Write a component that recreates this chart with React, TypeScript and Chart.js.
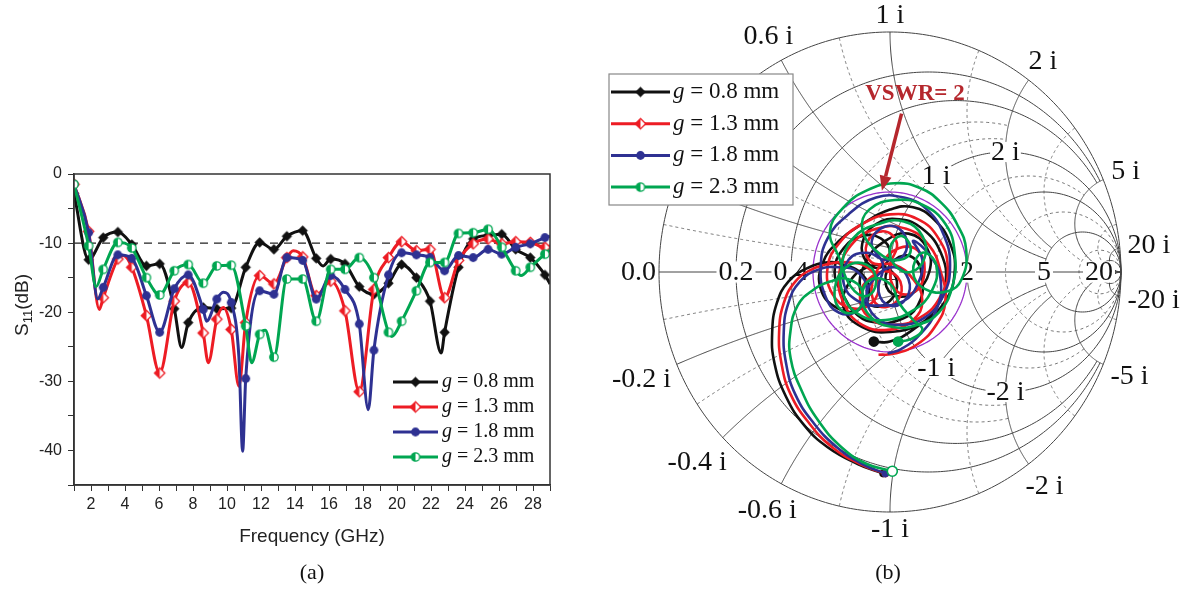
import React, { useEffect, useRef } from 'react';
import { Chart, registerables } from 'chart.js';
Chart.register(...registerables);

const SERIF = '"Liberation Serif", "Times New Roman", serif';
const SANS = '"Liberation Sans", Arial, sans-serif';

// ---------------- Panel (a): S11 vs frequency ----------------
const markerFreqs = [1.0, 1.86, 2.72, 3.58, 4.4, 5.26, 6.04, 6.9, 7.72, 8.6, 9.4, 10.25, 11.1, 11.92, 12.76, 13.52, 14.45, 15.25, 16.1, 16.94, 17.78, 18.64, 19.5, 20.27, 21.14, 21.94, 22.8, 23.62, 24.48, 25.36, 26.16, 26.98, 27.84, 28.7];
const s11G08 = [-2.8, -12.4, -9.2, -8.4, -10.2, -13.3, -13.0, -19.5, -21.5, -19.3, -19.5, -19.4, -13.5, -9.9, -10.9, -9.0, -8.2, -12.2, -12.3, -13.0, -16.3, -17.4, -15.8, -13.1, -15.0, -18.4, -22.9, -13.5, -9.4, -8.9, -8.7, -10.9, -12.1, -14.6];
const s11G13 = [-1.5, -8.3, -17.9, -12.3, -13.5, -20.5, -28.8, -18.4, -15.7, -23.0, -21.0, -22.5, -21.5, -14.7, -15.9, -12.1, -12.0, -17.6, -15.5, -19.8, -31.5, -16.7, -12.1, -9.8, -11.1, -10.9, -17.9, -12.5, -10.1, -9.4, -10.1, -9.8, -9.9, -10.6];
const s11G18 = [-1.5, -8.5, -16.4, -11.7, -12.2, -17.6, -22.9, -16.6, -14.6, -19.6, -18.1, -18.6, -29.6, -16.9, -17.4, -12.1, -12.5, -18.1, -14.7, -16.7, -21.7, -25.5, -14.6, -11.4, -11.7, -12.1, -14.0, -11.8, -12.1, -10.9, -11.6, -10.6, -10.1, -9.2];
const s11G23 = [-1.5, -10.4, -13.8, -9.9, -10.7, -15.0, -17.5, -14.0, -13.1, -15.8, -13.3, -13.2, -22.0, -23.2, -26.5, -15.2, -15.2, -21.3, -13.8, -13.8, -12.1, -15.0, -22.9, -21.3, -16.9, -12.8, -12.8, -8.6, -8.5, -8.0, -10.6, -14.0, -13.5, -11.6];
// extra curve points between markers (peaks / dips)
const extraG08 = [[7.33, -25.1], [15.66, -13.3], [22.6, -25.9], [29, -15.9]];
const extraG13 = [[2.49, -19.6], [3.9, -11.8], [8.9, -27.3], [9.78, -19.3], [10.7, -30.7], [13.9, -11.1], [29, -10.4]];
const extraG18 = [[2.4, -18.1], [8.8, -21.3], [9.78, -17.1], [10.7, -26.5], [10.92, -40.1], [18.31, -34.1], [29, -9.0]];
const extraG23 = [[2.3, -16.3], [11.45, -27.3], [12.25, -22.6], [19.7, -23.5], [27.3, -14.7], [29, -11.0]];
const gapLabels = ['0.8', '1.3', '1.8', '2.3'];
const seriesColors = ['#111111', '#ed1c24', '#2e3192', '#00a651'];
const thresholdDb = -10;
const freqRange = [1, 29];
const dbRange = [-45, 0];

// ---------------- Panel (b): Smith chart ----------------
const smithG08 = [[-0.03, -0.84], [-0.14, -0.80], [-0.27, -0.73], [-0.37, -0.64], [-0.45, -0.52], [-0.50, -0.38], [-0.51, -0.25], [-0.49, -0.13], [-0.44, -0.04], [-0.36, 0.015], [-0.27, 0.04], [-0.20, 0.03], [-0.12, -0.01], [-0.09, -0.09], [-0.14, -0.16], [-0.23, -0.15], [-0.30, -0.07], [-0.29, 0.04], [-0.22, 0.13], [-0.12, 0.20], [0.00, 0.26], [0.10, 0.27], [0.19, 0.22], [0.26, 0.12], [0.28, 0.00], [0.24, -0.12], [0.14, -0.21], [0.00, -0.25], [-0.12, -0.23], [-0.20, -0.15], [-0.18, -0.05], [-0.10, 0.02], [-0.02, 0.02], [0.03, -0.04], [0.00, -0.12], [-0.08, -0.14], [-0.13, -0.07], [-0.10, 0.05], [-0.02, 0.13], [0.08, 0.16], [0.16, 0.10], [0.17, 0.00], [0.11, -0.08], [0.03, -0.10], [-0.02, -0.04], [0.02, 0.05], [0.10, 0.06], [0.14, -0.03], [0.12, -0.14], [0.04, -0.20], [-0.06, -0.21], [-0.14, -0.18], [-0.20, -0.10], [-0.24, 0.00], [-0.20, 0.10], [-0.12, 0.15], [-0.04, 0.14], [0.00, 0.08], [-0.04, 0.02], [-0.10, 0.04], [-0.12, 0.12], [-0.06, 0.20], [0.04, 0.22], [0.14, 0.18], [0.22, 0.08], [0.24, -0.05], [0.19, -0.16], [0.10, -0.24], [0.00, -0.29], [-0.07, -0.29]];
const smithG13 = [[-0.02, -0.84], [-0.13, -0.80], [-0.25, -0.73], [-0.35, -0.63], [-0.43, -0.51], [-0.47, -0.38], [-0.48, -0.25], [-0.46, -0.13], [-0.41, -0.04], [-0.34, 0.01], [-0.26, 0.035], [-0.18, 0.04], [-0.10, 0.02], [-0.05, -0.05], [-0.08, -0.13], [-0.17, -0.15], [-0.25, -0.09], [-0.27, 0.02], [-0.22, 0.12], [-0.12, 0.20], [0.00, 0.24], [0.12, 0.22], [0.21, 0.14], [0.25, 0.02], [0.22, -0.10], [0.13, -0.19], [0.01, -0.22], [-0.09, -0.19], [-0.13, -0.10], [-0.08, -0.02], [0.00, 0.00], [0.05, -0.06], [0.02, -0.13], [-0.05, -0.14], [-0.08, -0.07], [-0.04, 0.03], [0.04, 0.10], [0.12, 0.09], [0.15, 0.01], [0.11, -0.08], [0.03, -0.08], [0.00, 0.02], [0.03, 0.12], [-0.03, 0.17], [-0.10, 0.12], [-0.08, 0.04], [0.02, 0.03], [0.10, -0.03], [0.14, -0.12], [0.10, -0.20], [0.00, -0.24], [-0.12, -0.22], [-0.20, -0.13], [-0.22, -0.01], [-0.17, 0.11], [-0.06, 0.18], [0.07, 0.18], [0.17, 0.11], [0.22, 0.00], [0.24, -0.12], [0.20, -0.22], [0.12, -0.30], [0.02, -0.34], [-0.05, -0.345]];
const smithG18 = [[-0.02, -0.84], [-0.12, -0.80], [-0.23, -0.73], [-0.33, -0.63], [-0.41, -0.51], [-0.45, -0.38], [-0.46, -0.25], [-0.44, -0.13], [-0.39, -0.04], [-0.31, 0.01], [-0.22, 0.02], [-0.14, 0.00], [-0.10, -0.08], [-0.14, -0.16], [-0.22, -0.17], [-0.28, -0.10], [-0.30, 0.02], [-0.27, 0.14], [-0.18, 0.24], [-0.06, 0.31], [0.06, 0.31], [0.16, 0.26], [0.23, 0.16], [0.26, 0.03], [0.23, -0.10], [0.15, -0.19], [0.04, -0.22], [-0.06, -0.19], [-0.10, -0.10], [-0.06, -0.02], [0.02, 0.02], [0.08, -0.03], [0.07, -0.11], [0.00, -0.14], [-0.05, -0.08], [-0.03, 0.03], [-0.08, 0.12], [-0.02, 0.19], [0.06, 0.16], [0.06, 0.07], [-0.02, 0.05], [-0.10, 0.08], [-0.18, 0.05], [-0.20, -0.05], [-0.14, -0.12], [-0.05, -0.14], [0.06, -0.12], [0.12, -0.05], [0.14, 0.05], [0.10, 0.13], [0.18, 0.06], [0.22, -0.04], [0.20, -0.16], [0.13, -0.26], [0.05, -0.32], [-0.01, -0.34]];
const smithG23 = [[0.01, -0.83], [-0.10, -0.80], [-0.21, -0.73], [-0.31, -0.62], [-0.38, -0.50], [-0.43, -0.36], [-0.43, -0.24], [-0.40, -0.14], [-0.34, -0.08], [-0.26, -0.04], [-0.18, -0.03], [-0.12, -0.08], [-0.14, -0.16], [-0.21, -0.16], [-0.24, -0.08], [-0.19, 0.02], [-0.10, 0.03], [-0.06, -0.04], [-0.10, -0.10], [-0.17, -0.06], [-0.22, 0.06], [-0.26, 0.17], [-0.20, 0.27], [-0.10, 0.34], [0.02, 0.37], [0.13, 0.35], [0.22, 0.29], [0.29, 0.20], [0.33, 0.09], [0.31, -0.03], [0.25, -0.08], [0.15, -0.07], [0.10, 0.00], [0.14, 0.08], [0.20, 0.03], [0.18, -0.08], [0.10, -0.16], [-0.02, -0.20], [-0.13, -0.18], [-0.20, -0.10], [-0.21, 0.02], [-0.16, 0.14], [-0.05, 0.20], [0.06, 0.21], [0.14, 0.15], [0.15, 0.06], [0.09, 0.00], [0.02, 0.03], [0.00, 0.10], [0.05, 0.15], [0.09, 0.09], [0.04, 0.05], [-0.05, 0.08], [-0.12, 0.18], [-0.09, 0.26], [0.02, 0.30], [0.14, 0.28], [0.24, 0.20], [0.28, 0.08], [0.27, -0.06], [0.21, -0.17], [0.12, -0.22], [0.02, -0.23], [-0.08, -0.19], [-0.12, -0.10], [-0.08, -0.03], [0.00, -0.05], [0.04, -0.13], [0.10, -0.20], [0.14, -0.24], [0.09, -0.28], [0.035, -0.29]];
// grid: [value, limit] — resistance circles limited to |x| <= limit, reactance arcs limited to r <= limit
const smithMajorR = [[0.2, 5], [0.4, 5], [1, Infinity], [2, Infinity], [5, Infinity], [20, Infinity]];
const smithMinorR = [[0.6, 2], [0.8, 2], [1.5, 5], [3, Infinity], [10, Infinity]];
const smithMajorX = [[0.2, 1], [0.4, 1], [0.6, 1], [1, 5], [2, 5], [5, Infinity], [20, Infinity]];
const smithMinorX = [[0.1, 1], [0.3, 1], [0.8, 1], [1.5, 5], [3, 10], [10, Infinity]];
const smithAxisLabels = [0.2, 0.4, 1, 2, 5, 20];
const smithOuterLabels = [0.6, 1, 2, 5, 20, -20, -5, -2, -1, -0.6, -0.4, -0.2];
const smithInnerLabels = [1, 2, -1, -2];
const vswrValue = 2;

type Pt = { x: number; y: number };

function makeMarker(kind: string, color: string, size: number): HTMLCanvasElement {
  const c = document.createElement('canvas');
  const s = Math.ceil(size * 2 + 4);
  c.width = s; c.height = s;
  const g = c.getContext('2d')!;
  const m = s / 2;
  g.lineWidth = 1.3;
  g.strokeStyle = color;
  const diamond = () => {
    g.beginPath(); g.moveTo(m, m - size); g.lineTo(m + size, m); g.lineTo(m, m + size); g.lineTo(m - size, m); g.closePath();
  };
  if (kind === 'diamond') { diamond(); g.fillStyle = color; g.fill(); }
  else if (kind === 'halfDiamond') {
    diamond(); g.fillStyle = '#fff'; g.fill();
    g.beginPath(); g.moveTo(m, m - size); g.lineTo(m, m + size); g.lineTo(m - size, m); g.closePath(); g.fillStyle = color; g.fill();
    diamond(); g.stroke();
  } else if (kind === 'circle') { g.beginPath(); g.arc(m, m, size, 0, Math.PI * 2); g.fillStyle = color; g.fill(); }
  else {
    const r = size - 0.6;
    g.beginPath(); g.arc(m, m, r, 0, Math.PI * 2); g.fillStyle = '#fff'; g.fill();
    g.beginPath(); g.arc(m, m, r, Math.PI / 2, Math.PI * 1.5); g.closePath(); g.fillStyle = color; g.fill();
    g.beginPath(); g.arc(m, m, r, 0, Math.PI * 2); g.stroke();
  }
  return c;
}

function drawLegendRow(ctx: CanvasRenderingContext2D, x0: number, x1: number, y: number, color: string, marker: HTMLCanvasElement, label: string, fontSize: number, textX: number) {
  ctx.save();
  ctx.strokeStyle = color; ctx.lineWidth = 3; ctx.setLineDash([]);
  ctx.beginPath(); ctx.moveTo(x0, y); ctx.lineTo(x1, y); ctx.stroke();
  ctx.drawImage(marker, (x0 + x1) / 2 - marker.width / 2, y - marker.height / 2);
  ctx.fillStyle = '#111'; ctx.textBaseline = 'middle'; ctx.textAlign = 'left';
  ctx.font = `italic ${fontSize}px ${SERIF}`;
  ctx.fillText('g', textX, y);
  const w = ctx.measureText('g').width;
  ctx.font = `${fontSize}px ${SERIF}`;
  ctx.fillText(' = ' + label + ' mm', textX + w, y);
  ctx.restore();
}

function buildLine(vals: number[], extra: number[][]): Pt[] {
  const pts = markerFreqs.map((f, i) => ({ x: f, y: vals[i] })).concat(extra.map(([x, y]) => ({ x, y })));
  pts.sort((a, b) => a.x - b.x);
  return pts;
}

export default function App() {
  const leftRef = useRef<HTMLCanvasElement>(null);
  const rightRef = useRef<HTMLCanvasElement>(null);

  useEffect(() => {
    const markers = [
      makeMarker('diamond', seriesColors[0], 5.2),
      makeMarker('halfDiamond', seriesColors[1], 5.2),
      makeMarker('circle', seriesColors[2], 4.4),
      makeMarker('halfCircle', seriesColors[3], 4.8),
    ];
    const vals = [s11G08, s11G13, s11G18, s11G23];
    const extras = [extraG08, extraG13, extraG18, extraG23];

    const dsA: any[] = [];
    for (let k = 3; k >= 0; k--) {
      dsA.push({
        data: markerFreqs.map((f, i) => ({ x: f, y: vals[k][i] })),
        showLine: false, pointStyle: markers[k], pointRadius: 5,
      });
      dsA.push({
        data: buildLine(vals[k], extras[k]), showLine: true, borderColor: seriesColors[k],
        borderWidth: 3, pointRadius: 0, cubicInterpolationMode: 'monotone',
      });
    }
    dsA.push({
      data: [{ x: freqRange[0], y: thresholdDb }, { x: freqRange[1], y: thresholdDb }],
      showLine: true, borderColor: '#222', borderWidth: 1.4, borderDash: [8, 6], pointRadius: 0,
    });

    const panelAPlugin = {
      id: 'panelA',
      afterDraw(chart: any) {
        const { ctx, chartArea: a } = chart;
        ctx.save();
        ctx.strokeStyle = '#333'; ctx.lineWidth = 1.5;
        ctx.strokeRect(a.left, a.top, a.right - a.left, a.bottom - a.top);
        // y title with subscript
        ctx.translate(21, 305); ctx.rotate(-Math.PI / 2);
        ctx.fillStyle = '#222'; ctx.textBaseline = 'alphabetic'; ctx.textAlign = 'left';
        const f1 = `19px ${SANS}`, f2 = `13px ${SANS}`;
        ctx.font = f1; const w1 = ctx.measureText('S').width; const w3 = ctx.measureText('(dB)').width;
        ctx.font = f2; const w2 = ctx.measureText('11').width;
        let x = -(w1 + w2 + w3) / 2;
        ctx.font = f1; ctx.fillText('S', x, 7); x += w1;
        ctx.font = f2; ctx.fillText('11', x, 11); x += w2;
        ctx.font = f1; ctx.fillText('(dB)', x, 7);
        ctx.restore();
        for (let k = 0; k < 4; k++) {
          drawLegendRow(ctx, a.left + 319, a.left + 364, 382 + 25 * k, seriesColors[k], markers[k], gapLabels[k], 20, a.left + 368);
        }
        ctx.save();
        ctx.fillStyle = '#111'; ctx.font = `22px ${SERIF}`; ctx.textAlign = 'center'; ctx.textBaseline = 'middle';
        ctx.fillText('(a)', (a.left + a.right) / 2, 573);
        ctx.restore();
      },
    };

    const chartA = new Chart(leftRef.current!, {
      type: 'scatter',
      data: { datasets: dsA },
      options: {
        responsive: false, animation: false, devicePixelRatio: 1, events: [],
        layout: { padding: { top: 174, right: 50, bottom: 38, left: 0 } },
        plugins: { legend: { display: false }, tooltip: { enabled: false } },
        scales: {
          x: {
            type: 'linear', min: freqRange[0], max: freqRange[1],
            afterFit: (s: any) => { s.height = 67; },
            ticks: { stepSize: 1, autoSkip: false, maxRotation: 0, padding: 4, color: '#222', font: { family: SANS, size: 16 }, callback: (v: any) => (Number(v) % 2 === 0 ? String(v) : '') },
            grid: { drawOnChartArea: false, tickLength: 6, color: '#333', lineWidth: 1 },
            border: { color: '#333', width: 1.5 },
            title: { display: true, text: 'Frequency (GHz)', color: '#222', font: { family: SANS, size: 19 } },
          },
          y: {
            type: 'linear', min: dbRange[0], max: dbRange[1],
            afterFit: (s: any) => { s.width = 74; },
            ticks: { stepSize: 5, autoSkip: false, padding: 6, color: '#222', font: { family: SANS, size: 16 }, callback: (v: any) => (Number(v) % 10 === 0 ? String(v) : '') },
            grid: { drawOnChartArea: false, tickLength: 6, color: '#333', lineWidth: 1 },
            border: { color: '#333', width: 1.5 },
          },
        },
      } as any,
      plugins: [panelAPlugin],
    });

    // ---------- Smith chart ----------
    const traces = [smithG08, smithG13, smithG18, smithG23];
    const dsB: any[] = [];
    for (let k = 3; k >= 0; k--) {
      const n = traces[k].length;
      dsB.push({
        data: traces[k].map(([x, y]) => ({ x, y })),
        showLine: true, borderColor: seriesColors[k], borderWidth: 2.6, tension: 0.45,
        pointRadius: (c: any) => (c.dataIndex === 0 ? (k === 3 ? 5 : 3) : c.dataIndex === n - 1 ? (k === 0 || k === 3 ? 4.5 : 0) : 0),
        pointBackgroundColor: (c: any) => (c.dataIndex === 0 && k === 3 ? '#fff' : seriesColors[k]),
        pointBorderColor: seriesColors[k], pointBorderWidth: 1.6,
      });
    }

    const G = (r: number, x: number) => { const d = (r + 1) * (r + 1) + x * x; return [(r * r + x * x - 1) / d, (2 * x) / d]; };

    const smithGrid = {
      id: 'smithGrid',
      beforeDatasetsDraw(chart: any) {
        const ctx = chart.ctx as CanvasRenderingContext2D;
        const xs = chart.scales.x, ys = chart.scales.y;
        const P = (a: number, b: number) => [xs.getPixelForValue(a), ys.getPixelForValue(b)];
        const rCurve = (r: number, lim: number) => {
          ctx.beginPath();
          const n = 400; const tm = Math.atan(lim);
          for (let i = 0; i <= n; i++) {
            const t = -tm + (2 * tm * i) / n;
            const [a, b] = G(r, Math.tan(t));
            const [px, py] = P(a, b);
            if (i === 0) ctx.moveTo(px, py); else ctx.lineTo(px, py);
          }
          ctx.stroke();
        };
        const xCurve = (x: number, lim: number) => {
          ctx.beginPath();
          const n = 300; const tm = Math.atan(lim);
          for (let i = 0; i <= n; i++) {
            const t = (tm * i) / n;
            const [a, b] = G(Math.tan(t), x);
            const [px, py] = P(a, b);
            if (i === 0) ctx.moveTo(px, py); else ctx.lineTo(px, py);
          }
          ctx.stroke();
        };
        ctx.save();
        ctx.strokeStyle = '#555'; ctx.lineWidth = 0.8; ctx.setLineDash([3, 3]);
        smithMinorR.forEach(([r, l]) => rCurve(r, l));
        smithMinorX.forEach(([x, l]) => { xCurve(x, l); xCurve(-x, l); });
        ctx.setLineDash([]); ctx.strokeStyle = '#444'; ctx.lineWidth = 1;
        smithMajorR.forEach(([r, l]) => rCurve(r, l));
        smithMajorX.forEach(([x, l]) => { xCurve(x, l); xCurve(-x, l); });
        rCurve(0, Infinity);
        const [lx, ly] = P(-1, 0); const [rx] = P(1, 0);
        ctx.beginPath(); ctx.moveTo(lx, ly); ctx.lineTo(rx, ly); ctx.stroke();
        // VSWR circle
        const gm = (vswrValue - 1) / (vswrValue + 1);
        ctx.strokeStyle = '#9932cc'; ctx.lineWidth = 1.3;
        ctx.beginPath();
        for (let i = 0; i <= 200; i++) {
          const th = (2 * Math.PI * i) / 200;
          const [px, py] = P(gm * Math.cos(th), gm * Math.sin(th));
          if (i === 0) ctx.moveTo(px, py); else ctx.lineTo(px, py);
        }
        ctx.stroke();
        // labels
        const fs = 28;
        ctx.font = `${fs}px ${SERIF}`; ctx.fillStyle = '#111'; ctx.textBaseline = 'middle';
        ctx.textAlign = 'right';
        ctx.fillText('0.0', lx - 3, ly + 1);
        ctx.textAlign = 'center';
        smithAxisLabels.forEach((r) => {
          const [px, py] = P((r - 1) / (r + 1), 0);
          const t = String(r); const w = ctx.measureText(t).width;
          ctx.fillStyle = '#fff'; ctx.fillRect(px - w / 2 - 2, py - fs * 0.38, w + 4, fs * 0.76);
          ctx.fillStyle = '#111'; ctx.fillText(t, px, py + 1);
        });
        smithOuterLabels.forEach((x) => {
          const [a, b] = G(0, x);
          const [px, py] = P(a, b);
          const t = `${x} i`; const w = ctx.measureText(t).width; const h = fs * 0.72;
          const off = 7 + Math.abs(a) * w / 2 + Math.abs(b) * h / 2;
          ctx.fillText(t, px + a * off, py - b * off + 1);
        });
        smithInnerLabels.forEach((x) => {
          const [a, b] = G(1, x);
          const [px, py] = P(a, b);
          const t = `${x} i`; const w = ctx.measureText(t).width;
          ctx.fillStyle = '#fff'; ctx.fillRect(px - w / 2 - 1, py - fs * 0.36, w + 2, fs * 0.72);
          ctx.fillStyle = '#111'; ctx.fillText(t, px, py + 1);
        });
        ctx.restore();
      },
      afterDatasetsDraw(chart: any) {
        const ctx = chart.ctx as CanvasRenderingContext2D;
        const xs = chart.scales.x, ys = chart.scales.y;
        const P = (a: number, b: number) => [xs.getPixelForValue(a), ys.getPixelForValue(b)];
        ctx.save();
        // legend box
        ctx.fillStyle = '#fff'; ctx.fillRect(9, 74, 184, 131);
        ctx.strokeStyle = '#888'; ctx.lineWidth = 1.2; ctx.strokeRect(9, 74, 184, 131);
        for (let k = 0; k < 4; k++) {
          drawLegendRow(ctx, 11, 70, 92 + 31.7 * k, seriesColors[k], markers[k], gapLabels[k], 23, 73);
        }
        // VSWR annotation
        const gm = (vswrValue - 1) / (vswrValue + 1);
        const [tx, ty] = P(-0.035, gm + 0.005);
        const [sx, sy] = P(0.05, 0.66);
        const ang = Math.atan2(ty - sy, tx - sx);
        const hl = 15, hw = 6;
        const bx = tx - hl * Math.cos(ang), by = ty - hl * Math.sin(ang);
        ctx.strokeStyle = '#b5272d'; ctx.fillStyle = '#b5272d'; ctx.lineWidth = 3.5;
        ctx.beginPath(); ctx.moveTo(sx, sy); ctx.lineTo(bx, by); ctx.stroke();
        ctx.beginPath(); ctx.moveTo(tx, ty);
        ctx.lineTo(bx + hw * Math.sin(ang), by - hw * Math.cos(ang));
        ctx.lineTo(bx - hw * Math.sin(ang), by + hw * Math.cos(ang));
        ctx.closePath(); ctx.fill();
        const [vx, vy] = P(0.108, 0.74);
        ctx.font = `bold 23px ${SERIF}`; ctx.textAlign = 'center'; ctx.textBaseline = 'middle';
        ctx.fillText(`VSWR= ${vswrValue}`, vx, vy);
        ctx.fillStyle = '#111'; ctx.font = `22px ${SERIF}`;
        ctx.fillText('(b)', 288, 573);
        ctx.restore();
      },
    };

    const chartB = new Chart(rightRef.current!, {
      type: 'scatter',
      data: { datasets: dsB },
      options: {
        responsive: false, animation: false, devicePixelRatio: 1, events: [],
        layout: { padding: { top: 32, right: 63, bottom: 78, left: 59 } },
        plugins: { legend: { display: false }, tooltip: { enabled: false } },
        scales: {
          x: { type: 'linear', min: -1, max: 1, display: false },
          y: { type: 'linear', min: -1, max: 1, display: false },
        },
      } as any,
      plugins: [smithGrid],
    });

    return () => { chartA.destroy(); chartB.destroy(); };
  }, []);

  return (
    <div style={{ position: 'absolute', left: 0, top: 0, width: 1184, height: 590, background: '#fff', overflow: 'hidden' }}>
      <canvas ref={leftRef} width={600} height={590} style={{ position: 'absolute', left: 0, top: 0, width: 600, height: 590 }} />
      <canvas ref={rightRef} width={584} height={590} style={{ position: 'absolute', left: 600, top: 0, width: 584, height: 590 }} />
    </div>
  );
}
